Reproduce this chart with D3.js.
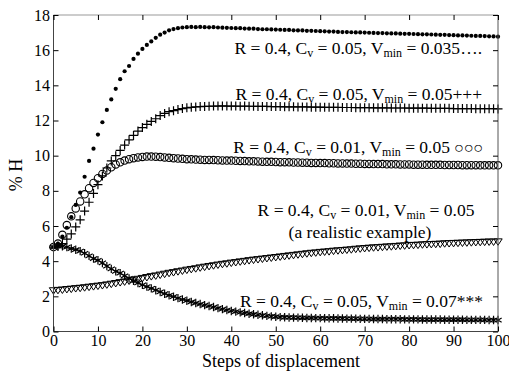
<!DOCTYPE html>
<html>
<head>
<meta charset="utf-8">
<script src="https://cdn.jsdelivr.net/npm/d3@7"></script>
<style>
  html, body { margin: 0; padding: 0; background: #fff; }
  svg { display: block; }
  svg text { font-family: "Liberation Serif", "DejaVu Serif", "Noto Serif", Times, serif; fill: #000; }
</style>
</head>
<body>
<svg id="chart" width="509" height="375"></svg>
<script>
// Simulation steps (x) and % H for each parameter set (y)
const steps = d3.range(0, 101);

// R = 0.4, Cv = 0.05, Vmin = 0.035  (dots)
const seriesVmin035 = [
  4.80,5.00,5.40,5.90,6.50,7.20,7.90,8.80,9.70,10.40,
  11.20,11.90,12.60,13.20,13.80,14.35,14.80,15.10,15.50,15.80,
  16.07,16.30,16.50,16.70,16.88,17.00,17.13,17.20,17.25,17.29,
  17.31,17.32,17.31,17.32,17.31,17.30,17.31,17.29,17.28,17.27,
  17.26,17.25,17.25,17.23,17.22,17.22,17.20,17.19,17.19,17.18,
  17.17,17.16,17.15,17.15,17.13,17.12,17.12,17.10,17.10,17.09,
  17.08,17.07,17.06,17.06,17.04,17.03,17.03,17.02,17.01,17.01,
  17.00,16.99,16.98,16.97,16.97,16.96,16.95,16.95,16.94,16.93,
  16.93,16.92,16.91,16.90,16.90,16.89,16.88,16.87,16.87,16.86,
  16.85,16.84,16.84,16.83,16.82,16.81,16.81,16.80,16.79,16.78,
  16.77
];

// R = 0.4, Cv = 0.05, Vmin = 0.05  (plus signs)
const seriesVmin05 = [
  4.80,4.85,5.00,5.25,5.55,5.95,6.35,6.85,7.35,7.85,
  8.35,8.85,9.30,9.70,10.00,10.30,10.60,10.90,11.15,11.40,
  11.60,11.78,11.95,12.10,12.28,12.40,12.50,12.56,12.62,12.68,
  12.72,12.75,12.77,12.79,12.80,12.81,12.82,12.82,12.83,12.82,
  12.82,12.82,12.81,12.82,12.81,12.81,12.80,12.80,12.80,12.79,
  12.79,12.79,12.78,12.78,12.78,12.77,12.77,12.77,12.76,12.76,
  12.76,12.75,12.75,12.75,12.75,12.74,12.74,12.74,12.73,12.73,
  12.73,12.73,12.72,12.72,12.72,12.72,12.71,12.71,12.71,12.71,
  12.70,12.70,12.70,12.70,12.70,12.69,12.69,12.69,12.69,12.69,
  12.68,12.68,12.68,12.68,12.68,12.67,12.67,12.67,12.67,12.67,
  12.66
];

// R = 0.4, Cv = 0.01, Vmin = 0.05  (open circles)
const seriesCv01 = [
  4.80,5.00,5.50,6.05,6.55,7.00,7.40,7.80,8.15,8.45,
  8.72,8.96,9.16,9.34,9.50,9.62,9.72,9.80,9.86,9.90,
  9.93,9.95,9.95,9.94,9.92,9.90,9.88,9.86,9.84,9.82,
  9.80,9.79,9.78,9.77,9.76,9.76,9.75,9.74,9.73,9.72,
  9.72,9.71,9.70,9.69,9.68,9.68,9.67,9.66,9.65,9.65,
  9.64,9.63,9.63,9.62,9.61,9.61,9.60,9.60,9.59,9.59,
  9.58,9.58,9.57,9.57,9.56,9.56,9.55,9.55,9.54,9.54,
  9.53,9.53,9.52,9.52,9.52,9.51,9.51,9.51,9.50,9.50,
  9.50,9.49,9.49,9.49,9.48,9.48,9.48,9.48,9.47,9.47,
  9.47,9.47,9.46,9.46,9.46,9.46,9.45,9.45,9.45,9.45,
  9.45
];

// R = 0.4, Cv = 0.01, Vmin = 0.05, realistic example  (down triangles)
const seriesRealistic = [
  2.36,2.38,2.40,2.43,2.45,2.48,2.50,2.53,2.56,2.59,
  2.62,2.65,2.69,2.73,2.77,2.82,2.86,2.91,2.96,3.01,
  3.06,3.11,3.16,3.20,3.25,3.30,3.35,3.39,3.44,3.48,
  3.53,3.57,3.61,3.66,3.70,3.74,3.78,3.82,3.86,3.89,
  3.93,3.96,4.00,4.03,4.07,4.10,4.13,4.16,4.19,4.22,
  4.25,4.28,4.31,4.34,4.37,4.40,4.43,4.46,4.49,4.51,
  4.54,4.56,4.58,4.61,4.63,4.65,4.67,4.69,4.72,4.74,
  4.76,4.78,4.80,4.81,4.83,4.85,4.86,4.88,4.90,4.91,
  4.93,4.94,4.95,4.97,4.98,4.99,5.00,5.01,5.03,5.04,
  5.05,5.06,5.07,5.08,5.09,5.10,5.11,5.12,5.13,5.13,
  5.14
];

// R = 0.4, Cv = 0.05, Vmin = 0.07  (asterisks)
const seriesVmin07 = [
  4.80,4.85,4.85,4.80,4.72,4.65,4.57,4.45,4.30,4.15,
  4.05,3.90,3.72,3.56,3.42,3.32,3.17,3.02,2.88,2.76,
  2.65,2.55,2.45,2.35,2.25,2.15,2.06,1.98,1.90,1.82,
  1.75,1.68,1.62,1.56,1.50,1.45,1.39,1.33,1.27,1.22,
  1.17,1.13,1.09,1.05,1.01,0.98,0.95,0.92,0.89,0.86,
  0.84,0.82,0.81,0.80,0.79,0.79,0.78,0.77,0.77,0.76,
  0.76,0.75,0.75,0.75,0.74,0.74,0.73,0.73,0.73,0.72,
  0.72,0.72,0.71,0.71,0.71,0.70,0.70,0.70,0.70,0.69,
  0.69,0.69,0.69,0.68,0.68,0.68,0.68,0.68,0.67,0.67,
  0.67,0.67,0.67,0.66,0.66,0.66,0.66,0.66,0.65,0.65,
  0.65
];

const xTicks = [0, 10, 20, 30, 40, 50, 60, 70, 80, 90, 100];
const yTicks = [0, 2, 4, 6, 8, 10, 12, 14, 16, 18];

const serif = "'Liberation Serif', 'DejaVu Serif', 'Noto Serif', Times, serif";
const svg = d3.select("#chart");
const plotLeft = 53.5, plotRight = 498, plotTop = 15, plotBottom = 331.5;

const x = d3.scaleLinear().domain([0, 100]).range([plotLeft, plotRight]);
const y = d3.scaleLinear().domain([0, 18]).range([plotBottom, plotTop]);

// ---- marker shapes ----
function plusPath(r) { return `M${-r},0H${r}M0,${-r}V${r}`; }
function asteriskPath(r) {
  const a = r * Math.cos(Math.PI / 6), b = r * Math.sin(Math.PI / 6);
  return `M0,${-r}V${r}M${-a},${-b}L${a},${b}M${-a},${b}L${a},${-b}`;
}
function triDownPath(r) {
  const h = r * 0.9;
  return `M${-r},${-h * 0.6}H${r}L0,${h * 1.1}Z`;
}

const plot = svg.append("g");

function drawSeries(values, kind) {
  const g = plot.append("g");
  const pts = steps.map((s, i) => ({ s, v: values[i] }));
  if (kind === "dot") {
    g.selectAll("circle").data(pts).join("circle")
      .attr("cx", d => x(d.s)).attr("cy", d => y(d.v))
      .attr("r", 2.1).attr("fill", "#000");
  } else if (kind === "circle") {
    g.selectAll("circle").data(pts).join("circle")
      .attr("cx", d => x(d.s)).attr("cy", d => y(d.v))
      .attr("r", 3.7).attr("fill", "none").attr("stroke", "#000").attr("stroke-width", 1.1);
  } else {
    const p = kind === "plus" ? plusPath(4.5) : kind === "asterisk" ? asteriskPath(4.2) : triDownPath(4.2);
    g.selectAll("path").data(pts).join("path")
      .attr("transform", d => `translate(${x(d.s)},${y(d.v)})`)
      .attr("d", p)
      .attr("fill", "none").attr("stroke", "#000")
      .attr("stroke-width", kind === "triangle" ? 1 : 1.2);
  }
}

drawSeries(seriesRealistic, "triangle");
drawSeries(seriesVmin07, "asterisk");
drawSeries(seriesCv01, "circle");
drawSeries(seriesVmin05, "plus");
drawSeries(seriesVmin035, "dot");

// ---- frame ----
const frame = svg.append("g").attr("fill", "none").attr("stroke-width", 1);
frame.append("line").attr("x1", plotLeft).attr("x2", plotRight).attr("y1", plotTop).attr("y2", plotTop).attr("stroke", "#999");
frame.append("line").attr("x1", plotLeft).attr("x2", plotRight).attr("y1", plotBottom).attr("y2", plotBottom).attr("stroke", "#444");
frame.append("line").attr("x1", plotLeft).attr("x2", plotLeft).attr("y1", plotTop).attr("y2", plotBottom).attr("stroke", "#444");
frame.append("line").attr("x1", plotRight).attr("x2", plotRight).attr("y1", plotTop).attr("y2", plotBottom).attr("stroke", "#555");

// ---- axes (ticks point inward) ----
const fontSize = 18, tickFont = 16;
const axB = svg.append("g").attr("transform", `translate(0,${plotBottom})`)
  .call(d3.axisBottom(x).tickValues(xTicks).tickSize(-5).tickPadding(3));
const axL = svg.append("g").attr("transform", `translate(${plotLeft},0)`)
  .call(d3.axisLeft(y).tickValues(yTicks).tickSize(-5).tickPadding(3.5));
const axT = svg.append("g").attr("transform", `translate(0,${plotTop})`)
  .call(d3.axisTop(x).tickValues(xTicks).tickSize(-5).tickFormat(""));
const axR = svg.append("g").attr("transform", `translate(${plotRight},0)`)
  .call(d3.axisRight(y).tickValues(yTicks).tickSize(-5).tickFormat(""));
[axB, axL, axT, axR].forEach(a => {
  a.attr("font-family", serif).attr("font-size", tickFont);
  a.select(".domain").remove();
  a.selectAll(".tick line").attr("stroke", "#000").attr("stroke-width", 1);
  a.selectAll("text").style("font-family", serif).attr("font-size", tickFont).attr("fill", "#000");
});

// axis titles
svg.append("text").attr("x", 281).attr("y", 367).attr("text-anchor", "middle")
  .style("font-family", serif).attr("font-size", fontSize).text("Steps of displacement");
svg.append("text").attr("transform", "translate(22,175) rotate(-90)").attr("text-anchor", "middle")
  .style("font-family", serif).attr("font-size", fontSize).text("% H");

// ---- series annotations ----
function paramLabel(xp, yp, anchor, cv, vmin, tail) {
  const t = svg.append("text").attr("x", xp).attr("y", yp).attr("text-anchor", anchor)
    .style("font-family", serif).attr("font-size", 17.5);
  t.append("tspan").text("R = 0.4, C");
  t.append("tspan").attr("font-size", 12).attr("dy", 2.5).text("v");
  t.append("tspan").attr("dy", -2.5).text(` = ${cv}, V`);
  t.append("tspan").attr("font-size", 12).attr("dy", 2.5).text("min");
  t.append("tspan").attr("dy", -2.5).text(` = ${vmin}`);
  if (tail) tail(t);
  return t;
}
paramLabel(482, 54, "end", "0.05", "0.035", t => t.append("tspan").text("…."));
paramLabel(482, 100, "end", "0.05", "0.05", t => t.append("tspan").text("+++"));
paramLabel(483, 153, "end", "0.01", "0.05", t => t.append("tspan").attr("font-size", 16).text(" ○○○"));
paramLabel(366, 216, "middle", "0.01", "0.05");
svg.append("text").attr("x", 360).attr("y", 238).attr("text-anchor", "middle")
  .style("font-family", serif).attr("font-size", 17.5).text("(a realistic example)");
paramLabel(483, 307, "end", "0.05", "0.07", t => t.append("tspan").text("***"));
</script>
</body>
</html>
